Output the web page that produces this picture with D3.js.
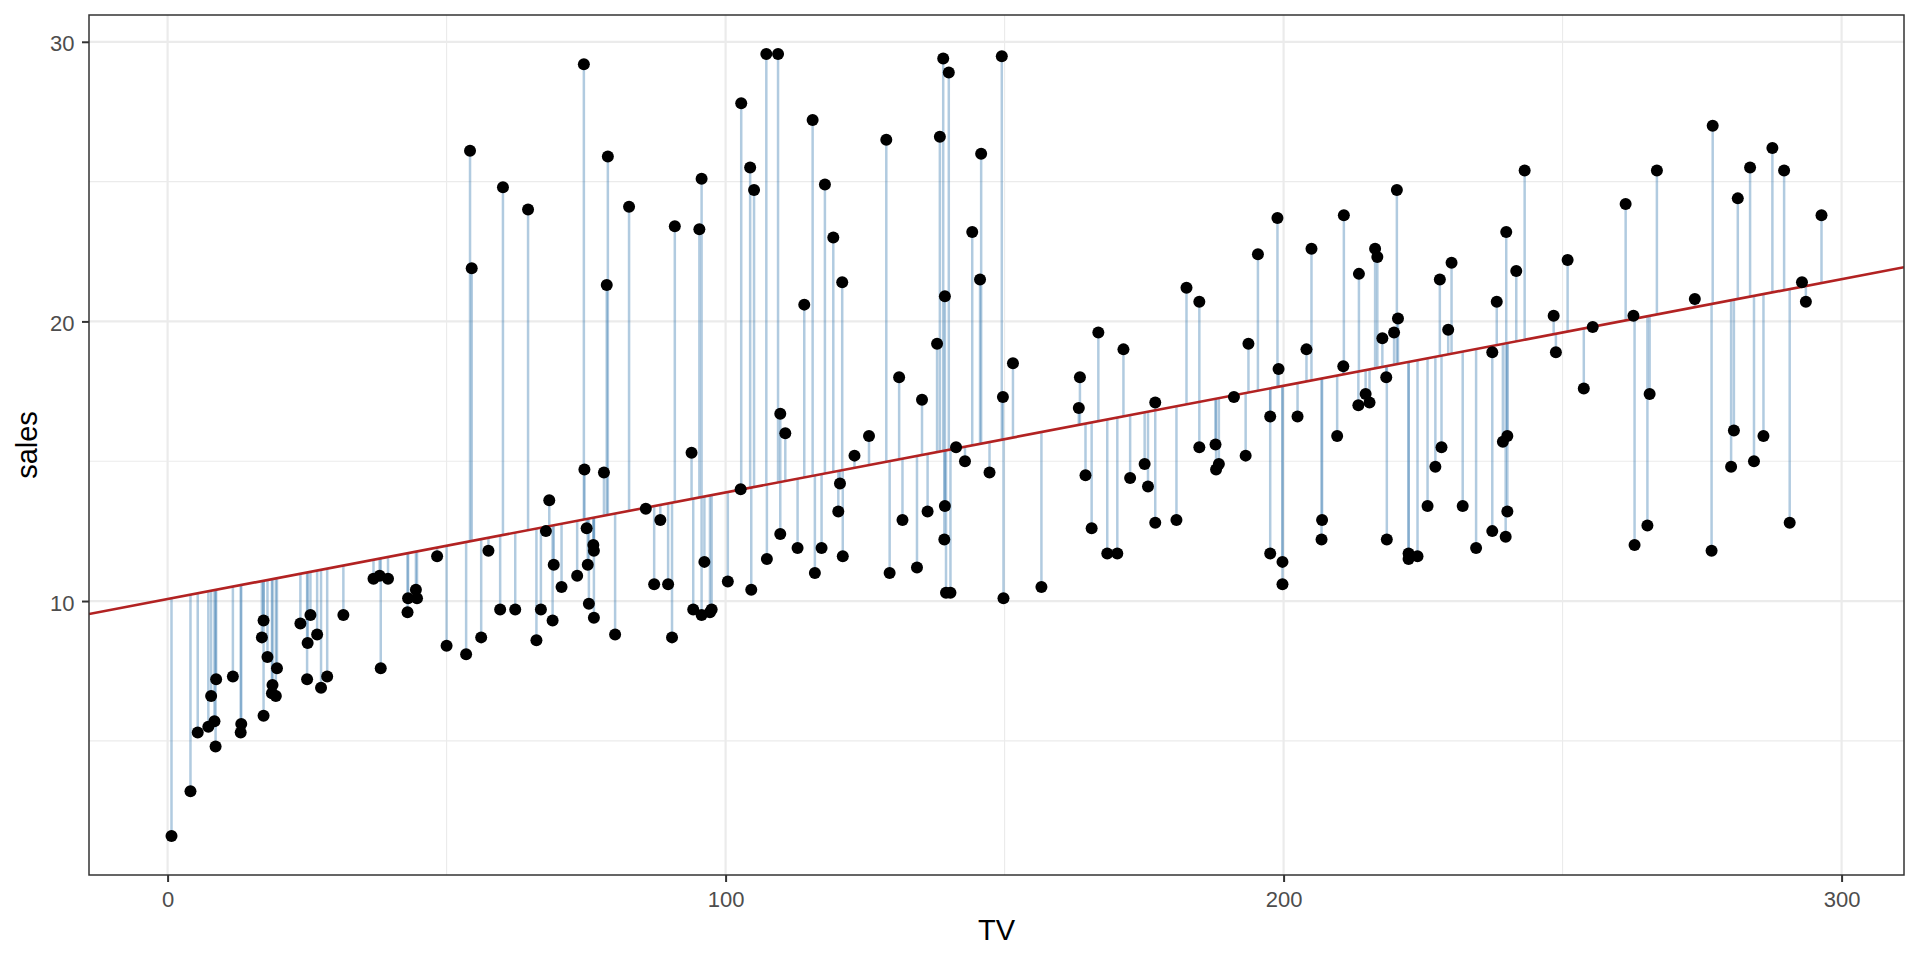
<!DOCTYPE html>
<html>
<head>
<meta charset="utf-8">
<script src="https://cdn.jsdelivr.net/npm/d3@7"></script>
<style>
body{margin:0;background:#fff}
svg{display:block}
text{font-family:"Liberation Sans",Arial,Helvetica,sans-serif}
</style>
</head>
<body>
<svg id="chart" width="1920" height="960"></svg>
<script>
// ---- data (TV advertising budget vs sales) ----
const tvValues = [230.1,44.5,17.2,151.5,180.8,8.7,57.5,120.2,8.6,199.8,
66.1,214.7,23.8,97.5,204.1,195.4,67.8,281.4,69.2,147.3,
218.4,237.4,13.2,228.3,62.3,262.9,142.9,240.1,248.8,70.6,
292.9,112.9,97.2,265.6,95.7,290.7,266.9,74.7,43.1,228,
202.5,177,293.6,206.9,25.1,175.1,89.7,239.9,227.2,66.9,
199.8,100.4,216.4,182.6,262.7,198.9,7.3,136.2,210.8,210.7,
53.5,261.3,239.3,102.7,131.1,69,31.5,139.3,237.4,216.8,
199.1,109.8,26.8,129.4,213.4,16.9,27.5,120.5,5.4,116,
76.4,239.8,75.3,68.4,213.5,193.2,76.3,110.7,88.3,109.8,
134.3,28.6,217.7,250.9,107.4,163.3,197.6,184.9,289.7,135.2,
222.4,296.4,280.2,187.9,238.2,137.9,25,90.4,13.1,255.4,
225.8,241.7,175.7,209.6,78.2,75.1,139.2,76.4,125.7,19.4,
141.3,18.8,224,123.1,229.5,87.2,7.8,80.2,220.3,59.6,
0.7,265.2,8.4,219.8,36.9,48.3,25.6,273.7,43,184.9,
73.4,193.7,220.5,104.6,96.2,140.3,240.1,243.2,38,44.7,
280.7,121,197.6,171.3,187.8,4.1,93.9,149.8,11.7,131.7,
172.5,85.7,188.4,163.5,117.2,234.5,17.9,206.8,215.4,284.3,
50,164.5,19.6,168.4,222.4,276.9,248.4,170.2,276.7,165.6,
156.6,218.5,56.2,287.6,253.8,205,139.5,191.1,286,18.7,
39.5,75.5,17.2,166.8,149.7,38.2,94.2,177,283.6,232.1];

const salesValues = [22.1,10.4,9.3,18.5,12.9,7.2,11.8,13.2,4.8,10.6,
8.6,17.4,9.2,9.7,19,22.4,12.5,24.4,11.3,14.6,
18,12.5,5.6,15.5,9.7,12,15,15.9,18.9,10.5,
21.4,11.9,9.6,17.4,9.5,12.8,25.4,14.7,10.1,21.5,
16.6,17.1,20.7,12.9,8.5,14.9,10.6,23.2,14.8,9.7,
11.4,10.7,22.6,21.2,20.2,23.7,5.5,13.2,23.8,18.4,
8.1,24.2,15.7,14,18,9.3,9.5,13.4,18.9,22.3,
18.3,12.4,8.8,11,17,8.7,6.9,14.2,5.3,11,
11.8,12.3,11.3,13.6,21.7,15.2,12,16,12.9,16.7,
11.2,7.3,19.4,22.2,11.5,16.9,11.7,15.5,25.4,17.2,
11.7,23.8,14.8,14.7,20.7,19.2,7.2,8.7,5.3,19.8,
13.4,21.8,14.1,15.9,14.6,12.6,12.2,9.4,15.9,6.6,
15.5,7,11.6,15.2,19.7,10.6,6.6,8.8,24.7,9.7,
1.6,12.7,5.7,19.6,10.8,11.6,9.5,20.8,9.6,20.7,
10.9,19.2,20.1,10.4,11.4,10.3,13.2,25.4,10.9,10.1,
16.1,11.6,16.6,19,15.6,3.2,15.3,10.1,7.3,12.9,
14.4,13.3,14.9,18,11.9,11.9,8,12.2,17.1,15,
8.4,14.5,7.6,11.7,11.5,27,20.2,11.7,11.8,12.6,
10.5,12.2,8.7,26.2,17.6,22.6,10.3,17.3,15.9,6.7,
10.8,9.9,5.9,19.6,17.3,7.6,9.7,12.8,25.5,13.4];

// additional high-sales observations visible in the chart
const extraTV = [54.2,54.5,60.1,64.6,74.6,78.9,78.7,82.7,90.9,95.7,
95.3,102.8,104.4,105.1,107.3,109.4,115.6,117.8,119.3,120.9,
114.1,128.8,138.4,139.0,140.0,139.3,144.2,145.8,145.6,149.5];
const extraSales = [26.1,21.9,24.8,24.0,29.2,25.9,21.3,24.1,23.4,25.1,
23.3,27.8,25.5,24.7,29.56,29.56,27.2,24.9,23.0,21.4,
20.6,26.5,26.6,29.4,28.9,20.9,23.2,26.0,21.5,29.48];

const xTicks = [0, 100, 200, 300];
const xMinorTicks = [50, 150, 250];
const yTicks = [10, 20, 30];
const yMinorTicks = [5, 15, 25];
const xTitle = "TV";
const yTitle = "sales";

// ---- build ----
const tv = tvValues.concat(extraTV);
const sales = salesValues.concat(extraSales);
const data = tv.map((v, i) => ({x: v, y: sales[i]}));

// least-squares fit (geom_smooth(method = "lm"))
const mx = d3.mean(tv), my = d3.mean(sales);
let sxy = 0, sxx = 0;
data.forEach(d => { sxy += (d.x - mx) * (d.y - my); sxx += (d.x - mx) ** 2; });
const slope = sxy / sxx, intercept = my - slope * mx;
data.forEach(d => d.fit = intercept + slope * d.x);

const L = 89, R = 1904, T = 15, B = 875;
const expand = e => { const r = e[1] - e[0]; return [e[0] - 0.05 * r, e[1] + 0.05 * r]; };
const x = d3.scaleLinear().domain(expand(d3.extent(tv))).range([L, R]);
const y = d3.scaleLinear().domain(expand(d3.extent(sales))).range([B, T]);

const svg = d3.select("#chart");
svg.append("rect").attr("width", 1920).attr("height", 960).attr("fill", "#fff");

svg.append("clipPath").attr("id", "panel")
  .append("rect").attr("x", L).attr("y", T).attr("width", R - L).attr("height", B - T);

const grid = svg.append("g");
grid.selectAll(".xmin").data(xMinorTicks).join("line")
  .attr("x1", d => x(d)).attr("x2", d => x(d)).attr("y1", T).attr("y2", B)
  .attr("stroke", "#EBEBEB").attr("stroke-width", 1.1);
grid.selectAll(".ymin").data(yMinorTicks).join("line")
  .attr("y1", d => y(d)).attr("y2", d => y(d)).attr("x1", L).attr("x2", R)
  .attr("stroke", "#EBEBEB").attr("stroke-width", 1.1);
grid.selectAll(".xmaj").data(xTicks).join("line")
  .attr("x1", d => x(d)).attr("x2", d => x(d)).attr("y1", T).attr("y2", B)
  .attr("stroke", "#EBEBEB").attr("stroke-width", 2.2);
grid.selectAll(".ymaj").data(yTicks).join("line")
  .attr("y1", d => y(d)).attr("y2", d => y(d)).attr("x1", L).attr("x2", R)
  .attr("stroke", "#EBEBEB").attr("stroke-width", 2.2);

const plot = svg.append("g").attr("clip-path", "url(#panel)");

// residual segments
plot.append("g").selectAll("line").data(data).join("line")
  .attr("x1", d => x(d.x)).attr("x2", d => x(d.x))
  .attr("y1", d => y(d.y)).attr("y2", d => y(d.fit))
  .attr("stroke", "steelblue").attr("stroke-opacity", 0.42).attr("stroke-width", 2.5);

// regression line across full range
const xd = x.domain();
plot.append("line")
  .attr("x1", x(xd[0])).attr("x2", x(xd[1]))
  .attr("y1", y(intercept + slope * xd[0])).attr("y2", y(intercept + slope * xd[1]))
  .attr("stroke", "#B22222").attr("stroke-width", 2.6);

// points
plot.append("g").selectAll("circle").data(data).join("circle")
  .attr("cx", d => x(d.x)).attr("cy", d => y(d.y)).attr("r", 6)
  .attr("fill", "#000");

// panel border
svg.append("rect").attr("x", L).attr("y", T).attr("width", R - L).attr("height", B - T)
  .attr("fill", "none").attr("stroke", "#333333").attr("stroke-width", 1.5);

// axes
const xAxis = svg.append("g").attr("transform", `translate(0,${B})`)
  .call(d3.axisBottom(x).tickValues(xTicks).tickSize(7).tickSizeOuter(0).tickFormat(d3.format("d")));
const yAxis = svg.append("g").attr("transform", `translate(${L},0)`)
  .call(d3.axisLeft(y).tickValues(yTicks).tickSize(7).tickSizeOuter(0).tickFormat(d3.format("d")));
[xAxis, yAxis].forEach(a => {
  a.select(".domain").remove();
  a.selectAll(".tick line").attr("stroke", "#333333").attr("stroke-width", 2);
  a.selectAll(".tick text").attr("fill", "#4D4D4D").style("font-size", "22px")
    .style("font-family", '"Liberation Sans",Arial,sans-serif');
});
xAxis.selectAll(".tick text").attr("y", 32).attr("dy", null);
yAxis.selectAll(".tick text").attr("x", -14.5).attr("y", 9).attr("dy", null);

// titles
svg.append("text").attr("x", (L + R) / 2).attr("y", 940)
  .attr("text-anchor", "middle").style("font-size", "29px").attr("fill", "#000").text(xTitle);
svg.append("text").attr("transform", `translate(37,${(T + B) / 2}) rotate(-90)`)
  .attr("text-anchor", "middle").style("font-size", "29px").attr("fill", "#000").text(yTitle);
</script>
</body>
</html>
